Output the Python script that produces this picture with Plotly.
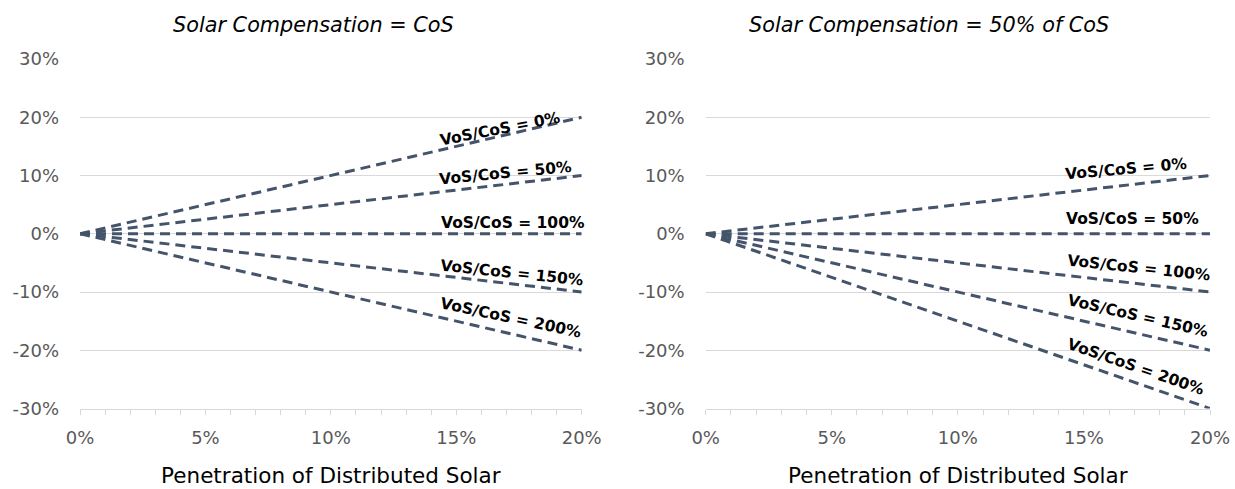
import plotly.graph_objects as go

# ---- data ----
penetration = [0, 5, 10, 15, 20]  # % of distributed solar

# Left panel: Solar Compensation = CoS
left_vos0 = [0, 5, 10, 15, 20]
left_vos50 = [0, 2.5, 5, 7.5, 10]
left_vos100 = [0, 0, 0, 0, 0]
left_vos150 = [0, -2.5, -5, -7.5, -10]
left_vos200 = [0, -5, -10, -15, -20]

# Right panel: Solar Compensation = 50% of CoS
right_vos0 = [0, 2.5, 5, 7.5, 10]
right_vos50 = [0, 0, 0, 0, 0]
right_vos100 = [0, -2.5, -5, -7.5, -10]
right_vos150 = [0, -5, -10, -15, -20]
right_vos200 = [0, -7.5, -15, -22.5, -30]

series_labels = ["VoS/CoS = 0%", "VoS/CoS = 50%", "VoS/CoS = 100%",
                 "VoS/CoS = 150%", "VoS/CoS = 200%"]

y_tickvals = [-30, -20, -10, 0, 10, 20, 30]
y_ticktext = ["-30%", "-20%", "-10%", "0%", "10%", "20%", "30%"]
x_tickvals = [0, 5, 10, 15, 20]
x_ticktext = ["0%", "5%", "10%", "15%", "20%"]

titles = ["Solar Compensation = CoS", "Solar Compensation = 50% of CoS"]
x_title = "Penetration of Distributed Solar"

# label anchor positions (data coords) and angles
left_label_pos = [(16.74, 18.05, -11), (16.98, 10.5, -5.5), (17.26, 1.9, 0),
                  (17.22, -6.8, 6), (17.18, -14.5, 12)]
right_label_pos = [(16.67, 11.2, -5), (16.91, 2.6, 0), (17.18, -5.9, 6),
                   (17.14, -14.2, 13), (17.07, -22.9, 19)]

# ---- styling ----
FONT = "DejaVu Sans"
LINE_COLOR = "#44546A"
GRID = "#D9D9D9"
TICK_COLOR = "#595959"
W, H = 1235, 489

fig = go.Figure()

left_series = [left_vos0, left_vos50, left_vos100, left_vos150, left_vos200]
right_series = [right_vos0, right_vos50, right_vos100, right_vos150, right_vos200]

for vals, name in zip(left_series, series_labels):
    fig.add_trace(go.Scatter(x=penetration, y=vals, mode="lines", name=name,
                             line=dict(color=LINE_COLOR, width=3, dash="10px,6px"),
                             xaxis="x", yaxis="y", showlegend=False))
for vals, name in zip(right_series, series_labels):
    fig.add_trace(go.Scatter(x=penetration, y=vals, mode="lines", name=name,
                             line=dict(color=LINE_COLOR, width=3, dash="10px,6px"),
                             xaxis="x2", yaxis="y2", showlegend=False))

# plot-area pixel geometry
left_px = (80.0, 581.7)
right_px = (705.7, 1210.0)
top_px, bot_px = 59.0, 408.5

def xdom(px):
    return [px[0] / W, px[1] / W]

ydom = [1 - bot_px / H, 1 - top_px / H]

xaxis_common = dict(range=[0, 20], tickvals=x_tickvals, ticktext=x_ticktext,
                    showgrid=False, zeroline=False, showline=True,
                    linecolor=GRID, linewidth=1, automargin=False,
                    ticks="outside", ticklen=5, tickcolor=GRID, tickwidth=1,
                    minor=dict(dtick=1, tick0=0, ticks="outside", ticklen=5,
                               tickcolor=GRID, tickwidth=1, showgrid=False),
                    tickfont=dict(family=FONT, size=18, color=TICK_COLOR),
                    ticklabelstandoff=8,
                    title=dict(text=x_title, standoff=20,
                               font=dict(family=FONT, size=21.5, color="#000000")))
yaxis_common = dict(range=[-30, 30], tickvals=y_tickvals, ticktext=y_ticktext,
                    showgrid=True, gridcolor=GRID, gridwidth=1, automargin=False,
                    zeroline=False, showline=False, ticks="",
                    tickfont=dict(family=FONT, size=18, color=TICK_COLOR),
                    ticklabelstandoff=20)

fig.update_layout(
    width=W, height=H,
    margin=dict(l=0, r=0, t=0, b=0, autoexpand=False),
    paper_bgcolor="white", plot_bgcolor="white",
    xaxis=dict(domain=xdom(left_px), anchor="y", **xaxis_common),
    yaxis=dict(domain=ydom, anchor="x", **yaxis_common),
    xaxis2=dict(domain=xdom(right_px), anchor="y2", **xaxis_common),
    yaxis2=dict(domain=ydom, anchor="x2", **yaxis_common),
)

# panel titles
for xc, t in zip([313.0, 929.0], titles):
    fig.add_annotation(text=f"<i>{t}</i>", xref="paper", yref="paper",
                       x=xc / W, y=1 - 25 / H, showarrow=False,
                       xanchor="center", yanchor="middle",
                       font=dict(family=FONT, size=20.8, color="#000000"))

# line labels
for (x, y, ang), lab in zip(left_label_pos, series_labels):
    fig.add_annotation(text=f"<b>{lab}</b>", x=x, y=y, xref="x", yref="y",
                       showarrow=False, textangle=ang,
                       xanchor="center", yanchor="middle",
                       font=dict(family=FONT, size=15.5, color="#000000"))
for (x, y, ang), lab in zip(right_label_pos, series_labels):
    fig.add_annotation(text=f"<b>{lab}</b>", x=x, y=y, xref="x2", yref="y2",
                       showarrow=False, textangle=ang,
                       xanchor="center", yanchor="middle",
                       font=dict(family=FONT, size=15.5, color="#000000"))

fig.write_html("out.html", config={"displayModeBar": False},
               post_script="document.body.style.margin='0';document.body.style.overflow='hidden';")
